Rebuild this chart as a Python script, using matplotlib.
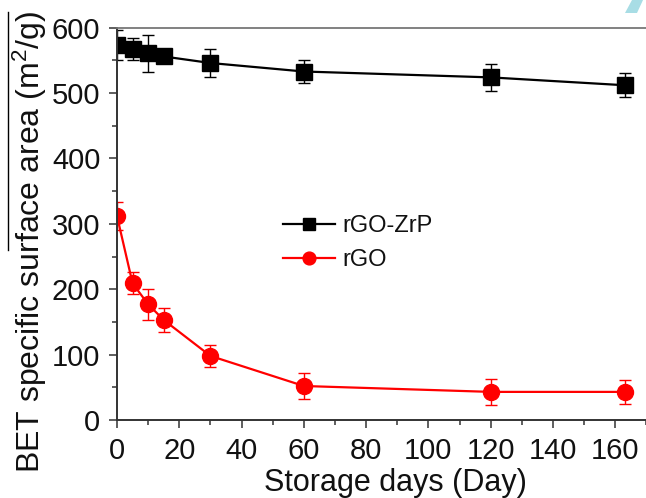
import matplotlib
matplotlib.use("Agg")
import matplotlib.pyplot as plt
from matplotlib.lines import Line2D
from matplotlib.patches import Polygon
from matplotlib.ticker import MultipleLocator

plt.rcParams.update({
    "font.family": "Liberation Sans",
    "mathtext.fontset": "custom",
    "mathtext.rm": "Liberation Sans",
    "mathtext.it": "Liberation Sans:italic",
})

# storage time (days) and BET surface area (m2/g)
days = [0, 5, 10, 15, 30, 60, 120, 163]
zrp_area = [574, 568, 561, 556, 546, 533, 524, 512]
zrp_err = [23, 17, 28, 5, 22, 17, 21, 18]
rgo_area = [312, 209, 177, 153, 98, 52, 43, 43]
rgo_err = [22, 17, 24, 19, 17, 20, 20, 18]

W, H = 646, 498
fig = plt.figure(figsize=(W / 100, H / 100), dpi=100)
# axes runs past the right edge of the canvas
ax = fig.add_axes([117 / W, 78 / H, 545 / W, 392.3 / H])

zrp = ax.errorbar(days, zrp_area, yerr=zrp_err, color="black", lw=1.6,
                  marker="s", ms=11.5, elinewidth=1.0, capsize=4, capthick=1.0,
                  label="rGO-ZrP")
rgo = ax.errorbar(days, rgo_area, yerr=rgo_err, color="#ff0000", lw=1.6,
                  marker="o", ms=11.5, elinewidth=1.0, capsize=4, capthick=1.0,
                  label="rGO")

ax.set_xlim(0, 175)
ax.set_ylim(0, 600)
ax.xaxis.set_major_locator(MultipleLocator(20))
ax.xaxis.set_minor_locator(MultipleLocator(10))
ax.yaxis.set_major_locator(MultipleLocator(100))
ax.yaxis.set_minor_locator(MultipleLocator(50))
ax.tick_params(which="both", direction="out", width=1.1, colors="#333333",
               labelsize=21, labelcolor="#111111")
ax.tick_params(which="major", length=6, pad=6)
ax.tick_params(which="minor", length=3.5)

for side in ("left", "bottom"):
    ax.spines[side].set_linewidth(1.4)
    ax.spines[side].set_color("#333333")
ax.spines["top"].set_color("#777777")
ax.spines["top"].set_linewidth(1.3)
ax.spines["right"].set_visible(False)

# legend shows only line + marker, no error bars
leg = ax.legend([zrp[0], rgo[0]], ["rGO-ZrP", "rGO"],
                loc="upper left", bbox_to_anchor=(283 / W, 1 - 215 / H),
                bbox_transform=fig.transFigure, frameon=False, fontsize=17,
                handlelength=2.2, handletextpad=0.3, labelspacing=0.5,
                borderpad=0, borderaxespad=0, markerscale=0.8)
for txt in leg.get_texts():
    txt.set_color("#111111")

fig.text(395 / W, 7 / H, "Storage days (Day)", ha="center", va="baseline",
         fontsize=22, color="#111111")
fig.text(30 / W, 1 - 242 / H, r"BET specific surface area (m$^{2}$/g)",
         rotation=90, ha="center", va="center", fontsize=23, color="#111111")

# stray marks along the canvas edges
fig.add_artist(Line2D([8 / W, 8 / W], [1 - 12 / H, 1 - 250 / H],
                      transform=fig.transFigure, color="black", lw=1.0))
fig.add_artist(Polygon([(632 / W, 1), (643 / W, 1), (637 / W, 1 - 13 / H),
                        (625 / W, 1 - 13 / H)], closed=True,
                       transform=fig.transFigure, facecolor="#a8dde5",
                       edgecolor="none"))

fig.savefig("out.png", dpi=100)
